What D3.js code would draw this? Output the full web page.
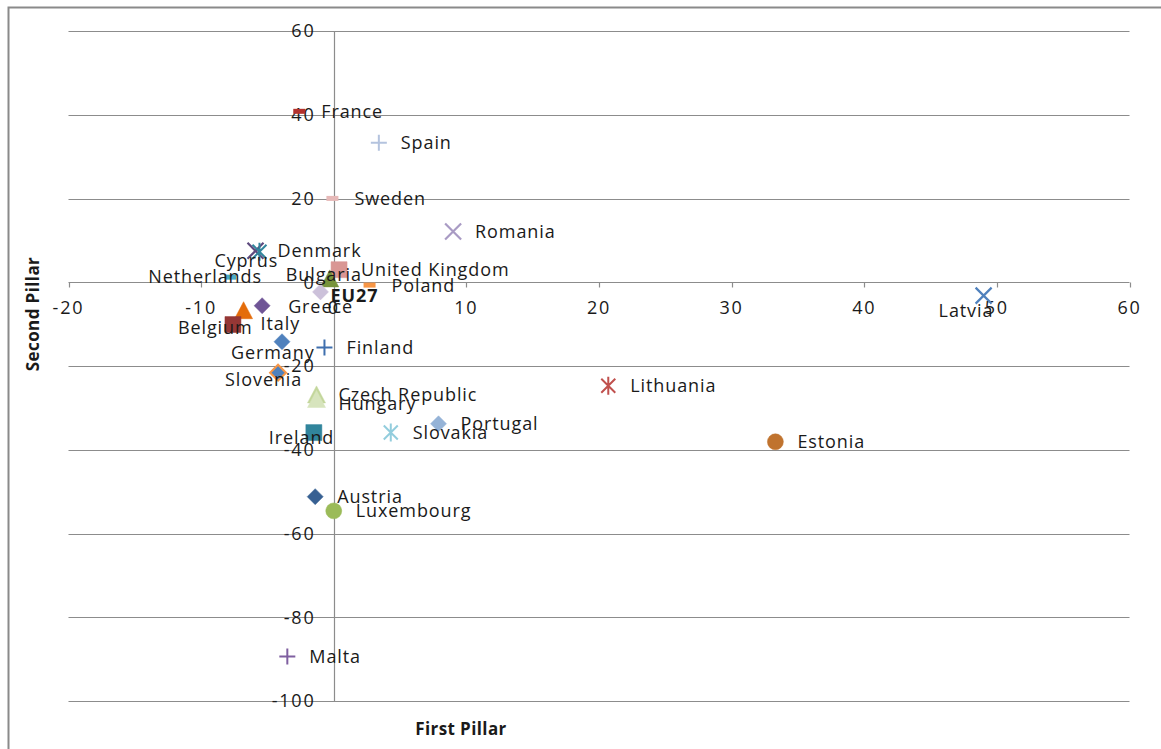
<!DOCTYPE html>
<html>
<head>
<meta charset="utf-8">
<script src="https://cdn.jsdelivr.net/npm/d3@7"></script>
<style>
  html, body { margin: 0; padding: 0; background: #fff; }
  svg { display: block; }
  text { font-family: "Open Sans", "DejaVu Sans", sans-serif; fill: #1a1a1a; }
</style>
</head>
<body>
<svg id="chart" width="1161" height="749"></svg>
<script>
// Pension reform contributions: first pillar vs second pillar, EU member states
const countries = [
  "France", "Spain", "Sweden", "Romania", "Denmark", "Cyprus", "Netherlands",
  "United Kingdom", "Bulgaria", "Poland", "EU27", "Latvia", "Italy", "Greece",
  "Belgium", "Germany", "Finland", "Slovenia", "Czech Republic", "Hungary",
  "Lithuania", "Portugal", "Slovakia", "Estonia", "Ireland", "Austria",
  "Luxembourg", "Malta"
];
const firstPillar = [
  -2.6, 3.4, -0.1, 9.0, -5.9, -5.6, -7.8,
  0.4, -0.3, 2.7, -1.0, 49.0, -6.8, -5.4,
  -7.6, -3.9, -0.7, -4.2, -1.3, -1.3,
  20.7, 7.9, 4.3, 33.3, -1.5, -1.4,
  0.0, -3.5
];
const secondPillar = [
  40.7, 33.3, 19.9, 12.1, 7.5, 7.3, 1.1,
  3.0, 0.8, -0.8, -2.3, -3.2, -6.8, -5.6,
  -10.1, -14.2, -15.6, -21.6, -26.9, -28.0,
  -24.7, -33.8, -35.9, -38.1, -35.9, -51.2,
  -54.6, -89.4
];
const xTicks = [-20, -10, 0, 10, 20, 30, 40, 50, 60];
const yTicks = [60, 40, 20, 0, -20, -40, -60, -80, -100];

// marker shape and colour for each country
const markerStyle = {
  "France":         { shape: "dash",     color: "#B2322E" },
  "Spain":          { shape: "plus",     color: "#B4C3DE" },
  "Sweden":         { shape: "dash",     color: "#E6B9B8" },
  "Romania":        { shape: "x",        color: "#A99BC4" },
  "Denmark":        { shape: "x",        color: "#5E4A7E" },
  "Cyprus":         { shape: "star",     color: "#31859C" },
  "Netherlands":    { shape: "dash",     color: "#4BACC6" },
  "United Kingdom": { shape: "square",   color: "#D99694" },
  "Bulgaria":       { shape: "triangle", color: "#77933C" },
  "Poland":         { shape: "dash",     color: "#F79646" },
  "EU27":           { shape: "diamond",  color: "#CCC1DA" },
  "Latvia":         { shape: "x",        color: "#4F81BD" },
  "Italy":          { shape: "triangle", color: "#E46C0A" },
  "Greece":         { shape: "diamond",  color: "#6F5596" },
  "Belgium":        { shape: "square",   color: "#953735" },
  "Germany":        { shape: "diamond",  color: "#4F81BD" },
  "Finland":        { shape: "plus",     color: "#3F6FAE" },
  "Slovenia":       { shape: "diamond",  color: "#4F81BD", stroke: "#F79646" },
  "Czech Republic": { shape: "triangle", color: "#C3D69B" },
  "Hungary":        { shape: "triangle", color: "#D7E4BD" },
  "Lithuania":      { shape: "star",     color: "#C0504D" },
  "Portugal":       { shape: "diamond",  color: "#95B3D7" },
  "Slovakia":       { shape: "star",     color: "#93CDDD" },
  "Estonia":        { shape: "circle",   color: "#C0732E" },
  "Ireland":        { shape: "square",   color: "#31859C" },
  "Austria":        { shape: "diamond",  color: "#376092" },
  "Luxembourg":     { shape: "circle",   color: "#9BBB59" },
  "Malta":          { shape: "plus",     color: "#7F5FA0" }
};

// label placement (pixel offsets from the marker); default is to the right
const labelOffset = {
  "Cyprus":      [-45, 9],
  "Netherlands": [-82, -1],
  "Bulgaria":    [-44, -4],
  "EU27":        [10, 4],
  "Latvia":      [-45, 15],
  "Greece":      [26, 1],
  "Italy":       [17, 13],
  "Belgium":     [-55, 3],
  "Germany":     [-51, 11],
  "Slovenia":    [-53, 7],
  "Ireland":     [-45, 5],
  "Hungary":     [22, 4]
};

const data = countries.map((c, i) => ({ name: c, x: firstPillar[i], y: secondPillar[i] }));

const svg = d3.select("#chart");
const x = d3.scaleLinear().domain([-20, 60]).range([68.5, 1129.5]);
const y = d3.scaleLinear().domain([-100, 60]).range([701, 31]);

// outer chart border
svg.append("rect")
  .attr("x", 8.5).attr("y", 7.5)
  .attr("width", 1200).attr("height", 800)
  .attr("fill", "none").attr("stroke", "#8a8a8a").attr("stroke-width", 2);

// horizontal gridlines
svg.append("g").selectAll("line").data(yTicks).join("line")
  .attr("x1", x(-20)).attr("x2", x(60))
  .attr("y1", d => Math.round(y(d)) + 0.5).attr("y2", d => Math.round(y(d)) + 0.5)
  .attr("stroke", "#8c8c8c").attr("stroke-width", 1.2);

// vertical axis through zero
const x0 = Math.round(x(0)) + 0.5;
svg.append("line")
  .attr("x1", x0).attr("x2", x0).attr("y1", y(60)).attr("y2", y(-100))
  .attr("stroke", "#8c8c8c").attr("stroke-width", 1.2);

// x tick marks on the zero line
const yAxis0 = Math.round(y(0)) + 0.5;
svg.append("g").selectAll("line").data(xTicks).join("line")
  .attr("x1", d => Math.round(x(d)) + 0.5).attr("x2", d => Math.round(x(d)) + 0.5)
  .attr("y1", yAxis0).attr("y2", yAxis0 + 5)
  .attr("stroke", "#8c8c8c").attr("stroke-width", 1.2);

const fontSize = 18;
const spacing = "0.9px";

// y tick labels
svg.append("g").selectAll("text").data(yTicks).join("text")
  .attr("x", x0 - 19).attr("y", d => y(d))
  .attr("dy", "0.35em").attr("text-anchor", "end")
  .attr("font-size", fontSize).attr("letter-spacing", "1.8px")
  .text(d => d);

// x tick labels
svg.append("g").selectAll("text").data(xTicks).join("text")
  .attr("x", d => x(d)).attr("y", yAxis0 + 25)
  .attr("dy", "0.35em").attr("text-anchor", "middle")
  .attr("font-size", fontSize).attr("letter-spacing", "1.8px")
  .text(d => d);

// axis titles
svg.append("text")
  .attr("x", 461).attr("y", 729).attr("dy", "0.35em")
  .attr("text-anchor", "middle").attr("font-size", 17).attr("font-weight", "bold")
  .attr("letter-spacing", "0.4px")
  .text("First Pillar");
svg.append("text")
  .attr("transform", "translate(33,314) rotate(-90)")
  .attr("dy", "0.35em")
  .attr("text-anchor", "middle").attr("font-size", 17).attr("font-weight", "bold")
  .attr("letter-spacing", "0.4px")
  .text("Second Pillar");

// marker drawing
function markerPath(shape) {
  switch (shape) {
    case "diamond": return "M0,-8L8,0L0,8L-8,0Z";
    case "square": return "M-8,-8H8V8H-8Z";
    case "triangle": return "M0,-9L9,8H-9Z";
    case "circle": return d3.symbol(d3.symbolCircle, 200)();
    default: return null;
  }
}

const marks = svg.append("g").selectAll("g").data(data).join("g")
  .attr("transform", d => `translate(${x(d.x)},${y(d.y)})`);

marks.each(function(d) {
  const g = d3.select(this);
  const st = markerStyle[d.name];
  const p = markerPath(st.shape);
  if (p) {
    g.append("path").attr("d", p).attr("fill", st.color)
      .attr("stroke", st.stroke || st.color).attr("stroke-width", st.stroke ? 2 : 0.5);
  } else if (st.shape === "dash") {
    g.append("rect").attr("x", -6).attr("y", -3).attr("width", 12).attr("height", 5)
      .attr("fill", st.color);
  } else if (st.shape === "plus") {
    g.append("path").attr("d", "M-8,0H8M0,-8V8")
      .attr("stroke", st.color).attr("stroke-width", 2).attr("fill", "none");
  } else if (st.shape === "x") {
    g.append("path").attr("d", "M-8,-8L8,8M-8,8L8,-8")
      .attr("stroke", st.color).attr("stroke-width", 2.2).attr("fill", "none");
  } else if (st.shape === "star") {
    g.append("path").attr("d", "M-7,-7L7,7M-7,7L7,-7M0,-9V9")
      .attr("stroke", st.color).attr("stroke-width", 2).attr("fill", "none");
  }
});

// country labels
svg.append("g").selectAll("text").data(data).join("text")
  .attr("x", d => x(d.x) + (labelOffset[d.name] ? labelOffset[d.name][0] : 22))
  .attr("y", d => y(d.y) + (labelOffset[d.name] ? labelOffset[d.name][1] : 0))
  .attr("dy", "0.35em")
  .attr("font-size", fontSize).attr("letter-spacing", spacing)
  .attr("font-weight", d => d.name === "EU27" ? "bold" : "normal")
  .text(d => d.name);
</script>
</body>
</html>
